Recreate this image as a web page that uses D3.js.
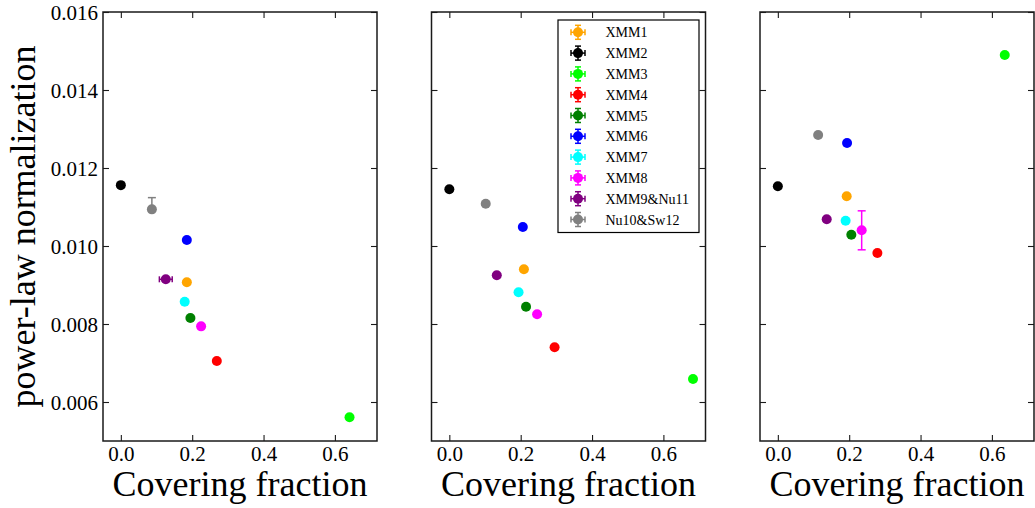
<!DOCTYPE html>
<html><head><meta charset="utf-8">
<script src="https://cdn.jsdelivr.net/npm/d3@7"></script>
<style>body{margin:0;background:#fff}svg{display:block}text{font-family:"Liberation Serif","Times New Roman",serif;fill:#000}</style>
</head><body><svg id="c" width="1035" height="508"></svg>
<script>
const seriesNames = ["XMM1","XMM2","XMM3","XMM4","XMM5","XMM6","XMM7","XMM8","XMM9&Nu11","Nu10&Sw12"];
const seriesColors = ["#FFA500","#000000","#00FF00","#FF0000","#008000","#0000FF","#00FFFF","#FF00FF","#800080","#808080"];
// Panel 1
const cf1 = [0.185, 0.0, 0.641, 0.269, 0.195, 0.185, 0.179, 0.225, 0.126, 0.087];
const norm1 = [0.00907, 0.01156, 0.005607, 0.00705, 0.008154, 0.010154, 0.008572, 0.00794, 0.009146, 0.01094];
const xerr1 = [0, 0, 0, 0, 0, 0, 0, 0, 0.018, 0];
const yerrLo1 = [0, 0, 0, 0, 0, 0, 0, 0, 0, 0.00005];
const yerrHi1 = [0, 0, 0, 0, 0, 0, 0, 0, 0, 0.0003];
// Panel 2
const cf2 = [0.209, 0.0, 0.683, 0.295, 0.215, 0.206, 0.194, 0.246, 0.133, 0.102];
const norm2 = [0.009402, 0.011453, 0.00659, 0.007402, 0.008444, 0.010487, 0.008812, 0.008248, 0.009248, 0.011085];
const xerr2 = [0, 0, 0, 0, 0, 0, 0, 0, 0, 0];
const yerrLo2 = [0, 0, 0, 0, 0, 0, 0, 0, 0, 0];
const yerrHi2 = [0, 0, 0, 0, 0, 0, 0, 0, 0, 0];
// Panel 3
const cf3 = [0.193, 0.0, 0.636, 0.279, 0.206, 0.194, 0.190, 0.235, 0.137, 0.113];
const norm3 = [0.011274, 0.01153, 0.014897, 0.009821, 0.01029, 0.012641, 0.010649, 0.010402, 0.010684, 0.012846];
const xerr3 = [0, 0, 0, 0, 0, 0, 0, 0, 0, 0];
const yerrLo3 = [0, 0, 0, 0, 0, 0, 0, 0.0005, 0, 0];
const yerrHi3 = [0, 0, 0, 0, 0, 0, 0, 0.0005, 0, 0];

const xTicks = [0.0, 0.2, 0.4, 0.6];
const yTicks = [0.006, 0.008, 0.010, 0.012, 0.014, 0.016];
const xDomain = [-0.05, 0.718];
const yDomain = [0.005, 0.016];

const panels = [
  {x: cf1, y: norm1, xe: xerr1, lo: yerrLo1, hi: yerrHi1},
  {x: cf2, y: norm2, xe: xerr2, lo: yerrLo2, hi: yerrHi2},
  {x: cf3, y: norm3, xe: xerr3, lo: yerrLo3, hi: yerrHi3}
];

const svg = d3.select("#c");
const W = 274, H = 429, topY = 12;
const lefts = [103, 431.5, 760];
const frameColor = "#1a1a1a";
const serif = '"Liberation Serif","Times New Roman",serif';

panels.forEach((p, pi) => {
  const g = svg.append("g").attr("transform", `translate(${lefts[pi]},${topY})`);
  const x = d3.scaleLinear().domain(xDomain).range([0, W]);
  const y = d3.scaleLinear().domain(yDomain).range([H, 0]);

  const tl = 6;
  const ax = [
    d3.axisBottom(x).tickValues(xTicks).tickSize(-tl).tickFormat(d3.format(".1f")),
    d3.axisTop(x).tickValues(xTicks).tickSize(-tl).tickFormat(""),
    d3.axisLeft(y).tickValues(yTicks).tickSize(-tl).tickFormat(pi === 0 ? d3.format(".3f") : ""),
    d3.axisRight(y).tickValues(yTicks).tickSize(-tl).tickFormat("")
  ];
  const tr = [`translate(0,${H})`, `translate(0,0)`, `translate(0,0)`, `translate(${W},0)`];
  ax.forEach((a, i) => {
    const ag = g.append("g").attr("transform", tr[i]).call(a)
      .attr("font-family", serif).attr("font-size", 21);
    ag.select(".domain").remove();
    ag.selectAll(".tick line").attr("stroke", frameColor).attr("stroke-width", 1.1);
    ag.selectAll("text").style("font-family", serif).style("font-size", "21px").attr("fill", "#000");
    if (i === 0) ag.selectAll("text").attr("y", 5.5);
    if (i === 2) ag.selectAll("text").attr("x", -5).attr("dy", "0.38em");
  });

  g.append("rect").attr("width", W).attr("height", H).attr("fill", "none")
    .attr("stroke", frameColor).attr("stroke-width", 1.5);

  const mk = g.append("g");
  seriesNames.forEach((name, i) => {
    const c = seriesColors[i];
    const cx = x(p.x[i]), cy = y(p.y[i]);
    if (p.xe[i] > 0) {
      const x0 = x(p.x[i] - p.xe[i]), x1 = x(p.x[i] + p.xe[i]);
      mk.append("line").attr("x1", x0).attr("x2", x1).attr("y1", cy).attr("y2", cy).attr("stroke", c).attr("stroke-width", 1.5);
      [x0, x1].forEach(v => mk.append("line").attr("x1", v).attr("x2", v).attr("y1", cy - 3).attr("y2", cy + 3).attr("stroke", c).attr("stroke-width", 1.5));
    }
    if (p.lo[i] > 0 || p.hi[i] > 0) {
      const y0 = y(p.y[i] - p.lo[i]), y1 = y(p.y[i] + p.hi[i]);
      mk.append("line").attr("x1", cx).attr("x2", cx).attr("y1", y0).attr("y2", y1).attr("stroke", c).attr("stroke-width", 1.5);
      [y0, y1].forEach(v => mk.append("line").attr("x1", cx - 4).attr("x2", cx + 4).attr("y1", v).attr("y2", v).attr("stroke", c).attr("stroke-width", 1.5));
    }
    mk.append("circle").attr("cx", cx).attr("cy", cy).attr("r", 5).attr("fill", c);
  });

  svg.append("text").attr("x", lefts[pi] + W / 2).attr("y", 496).attr("text-anchor", "middle")
    .style("font-family", serif).style("font-size", "36px").text("Covering fraction");

  if (pi === 1) {
    const lg = g.append("g").attr("transform", "translate(126.5,8)");
    lg.append("rect").attr("width", 141).attr("height", 212.5).attr("fill", "#fff").attr("stroke", "#000").attr("stroke-width", 1.2);
    seriesNames.forEach((name, i) => {
      const c = seriesColors[i];
      const ey = 12.3 + i * 20.8, ex = 20;
      lg.append("line").attr("x1", ex - 7).attr("x2", ex + 7).attr("y1", ey).attr("y2", ey).attr("stroke", c).attr("stroke-width", 1.5);
      lg.append("line").attr("x1", ex).attr("x2", ex).attr("y1", ey - 7).attr("y2", ey + 7).attr("stroke", c).attr("stroke-width", 1.5);
      [ex - 7, ex + 7].forEach(v => lg.append("line").attr("x1", v).attr("x2", v).attr("y1", ey - 3).attr("y2", ey + 3).attr("stroke", c).attr("stroke-width", 1.5));
      [ey - 7, ey + 7].forEach(v => lg.append("line").attr("x1", ex - 3).attr("x2", ex + 3).attr("y1", v).attr("y2", v).attr("stroke", c).attr("stroke-width", 1.5));
      lg.append("circle").attr("cx", ex).attr("cy", ey).attr("r", 5).attr("fill", c);
      lg.append("text").attr("x", 47.5).attr("y", ey + 5).style("font-family", serif).style("font-size", "14px").text(name);
    });
  }
});

svg.append("text").attr("transform", `translate(35,${topY + H / 2}) rotate(-90)`)
  .attr("text-anchor", "middle").style("font-family", serif).style("font-size", "36px").text("power-law normalization");
</script></body></html>
